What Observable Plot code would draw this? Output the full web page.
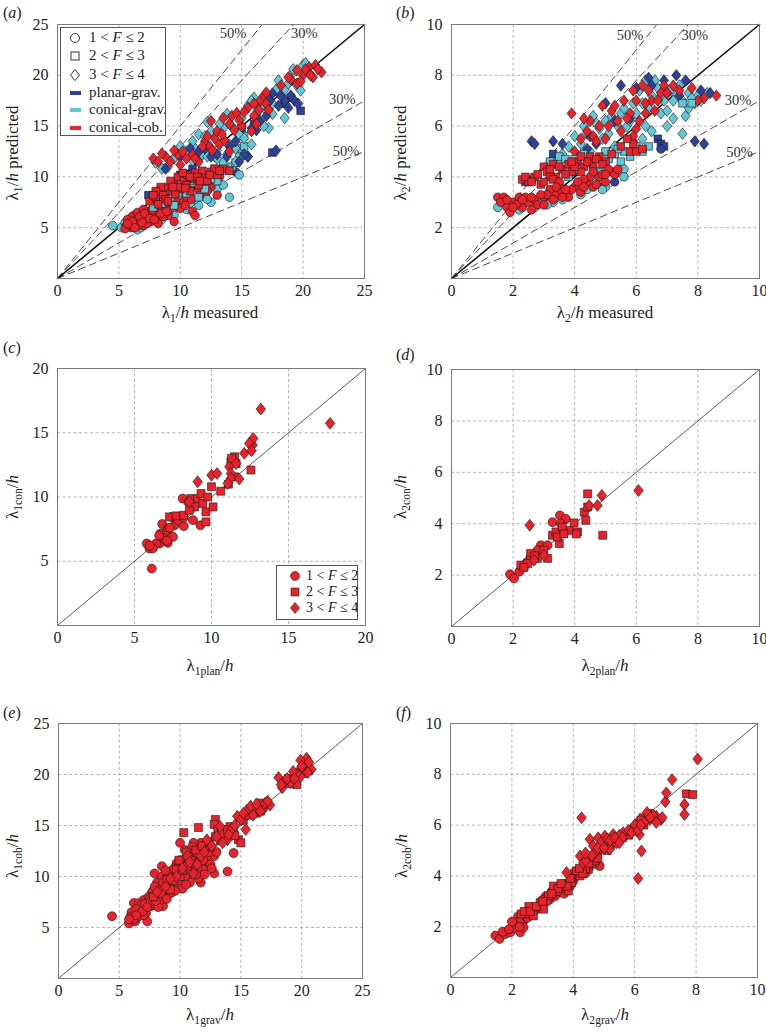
<!DOCTYPE html>
<html><head><meta charset="utf-8">
<script src="https://cdn.jsdelivr.net/npm/d3@7"></script>
<script src="https://cdn.jsdelivr.net/npm/@observablehq/plot@0.6"></script>
<style>
body{margin:0;background:#fff;}
#root{position:relative;width:766px;height:1034px;background:#fff;font-family:"Liberation Serif","Tinos","DejaVu Serif","Noto Serif",serif;color:#222;overflow:hidden}
.lab{position:absolute;white-space:nowrap;font-size:17px;line-height:1;transform:translate(-50%,-50%)}
.ylab{transform:translate(-50%,-50%) rotate(-90deg)}
.lab sub{font-size:0.68em;vertical-align:-0.35em;line-height:0}
.pl{position:absolute;font-size:16px;line-height:1}
.leg{position:absolute;border:1px solid #555;background:#fff;box-sizing:border-box}
.legrow{position:absolute;white-space:nowrap;line-height:1}
</style></head><body><div id="root"></div>
<script>
// ---------- DATA ----------
const ticks25 = [0,5,10,15,20,25];
const ticks20 = [0,5,10,15,20];
const ticks10 = [0,2,4,6,8,10];
const ratios = [1.5,1.3,0.7,0.5];
const fLabels = ["1 < F ≤ 2","2 < F ≤ 3","3 < F ≤ 4"];
const seriesNames = ["planar-grav.","conical-grav.","conical-cob."];
const seriesColors = ["#2f4299","#62c6d6","#e8232b"];

// (a) lambda1 measured vs predicted
const aPlanarCircle = [[12.0,9.4],[14.5,10.5],[10.5,8.5],[11.0,9.0]];
const aConGravCircle = [[4.5,5.2],[5.2,5.0],[6.0,5.5],[7.0,5.6],[7.5,6.2],[8.5,5.8],[9.0,7.0],[10.0,7.8],[10.5,6.8],[11.5,7.2],[12.0,8.2],[13.0,8.8],[14.0,8.0],[14.8,10.2],[12.5,7.5],[8.0,6.5],[9.5,6.2],[6.5,4.8],[7.8,7.4],[11.2,7.8],[5.5,5.5],[6.2,5.2],[6.8,5.0],[7.3,6.0],[8.2,6.8],[8.8,6.2],[9.8,7.4],[10.8,7.4],[12.2,7.8],[13.5,9.2],[11.0,8.4]];
const aConCobCircle = [[5.6,5.2],[5.8,5.6],[6.0,5.0],[6.2,6.2],[6.4,5.4],[6.5,6.5],[6.8,5.8],[7.0,5.2],[7.2,6.0],[7.4,6.6],[7.6,5.6],[7.8,6.4],[8.0,7.0],[8.2,6.0],[8.5,6.8],[8.8,7.2],[9.0,6.2],[9.5,5.6],[9.8,7.0],[10.2,7.5],[10.5,8.0],[11.0,6.6],[11.2,6.2],[12.5,9.0],[13.0,8.2],[13.2,10.0],[10.8,9.0],[11.5,8.8],[12.8,9.8],[9.2,8.0],[8.2,5.4],[5.5,4.9],[6.0,6.0],[6.6,5.2],[7.0,6.8],[6.3,5.7],[5.9,5.3],[7.3,5.4],[8.6,6.1],[9.4,7.3],[10.0,6.9],[5.7,5.8],[6.1,5.6],[6.7,6.1],[6.9,5.5],[7.1,6.4],[7.5,5.9],[7.7,6.8],[8.4,6.4],[8.7,7.6],[9.1,6.7],[9.6,7.6],[10.4,7.2],[10.9,7.8],[11.6,8.2],[12.2,8.6],[6.3,5.0],[5.7,5.4],[7.9,5.8],[8.9,6.6],[10.6,9.4]];
const aPlanarSquare = [[7.4,8.2],[7.8,7.8],[8.2,8.1],[9.0,8.8],[10.0,10.2],[11.0,10.8],[12.0,9.0],[15.0,14.8],[16.0,15.2],[17.5,12.4],[19.8,16.5],[19.0,17.8],[18.5,17.2]];
const aConGravSquare = [[7.8,7.0],[8.5,7.4],[9.2,8.0],[10.0,9.2],[10.5,8.4],[11.0,9.4],[12.0,8.8],[13.0,9.6],[14.2,11.0],[15.0,12.8],[15.2,13.0],[8.2,8.4],[9.5,7.2],[11.5,8.0],[12.8,10.8],[13.5,11.5],[14.8,12.0],[8.8,8.6],[9.8,8.4],[10.8,9.6],[11.8,9.8],[12.5,9.8],[13.8,10.6],[14.5,11.4],[15.2,14.0],[8.6,8.0]];
const aConCobSquare = [[7.5,7.6],[8.0,8.0],[8.3,8.6],[8.6,8.2],[9.0,9.0],[9.3,8.6],[9.5,9.4],[9.8,10.0],[10.0,8.8],[10.3,9.6],[10.6,10.2],[11.0,9.8],[11.2,10.4],[11.5,9.2],[12.0,10.0],[12.5,10.5],[13.0,10.2],[13.5,10.8],[14.0,10.6],[8.8,7.8],[10.8,8.6],[12.2,9.6],[9.0,7.6],[11.8,10.6],[8.2,7.3],[9.6,8.3],[10.5,9.2],[12.8,10.8],[8.4,9.0],[9.2,9.6],[9.8,9.0],[10.2,10.4],[10.8,10.0],[11.4,10.0],[11.6,9.6],[12.4,10.2],[13.2,10.6],[8.0,8.6],[9.4,9.0],[10.4,8.9],[7.8,8.2]];
const aPlanarDiamond = [[8.8,10.8],[10.0,12.0],[10.8,12.8],[12.0,12.8],[13.0,12.2],[14.5,13.5],[14.8,11.5],[15.5,12.0],[15.2,12.2],[16.5,15.5],[17.0,16.0],[17.8,12.6],[18.5,17.5],[18.8,16.8],[19.3,17.5],[18.2,18.0],[17.5,18.2],[13.8,12.0],[11.5,12.5],[12.5,12.0],[14.0,13.0],[15.8,14.8],[16.2,14.6],[18.0,17.0],[19.0,18.0],[19.6,17.2],[17.3,17.5]];
const aConGravDiamond = [[8.0,11.4],[8.5,10.8],[9.5,11.8],[10.5,12.5],[11.2,12.8],[11.8,12.2],[12.2,12.0],[13.0,12.6],[13.8,12.2],[14.5,12.8],[14.0,13.2],[12.5,14.5],[12.2,15.4],[11.5,14.2],[13.5,14.8],[15.0,15.8],[15.5,17.0],[16.0,17.8],[16.8,16.8],[17.5,17.2],[18.0,18.2],[18.5,18.6],[18.0,19.5],[19.0,20.0],[19.5,19.0],[20.0,21.0],[20.5,20.2],[17.5,16.2],[18.5,15.8],[17.2,14.8],[14.5,11.5],[15.8,17.5],[13.8,16.2],[19.8,18.5],[15.5,12.0],[9.0,11.0],[10.0,13.0],[11.0,13.5],[12.0,14.0],[13.2,15.2],[14.2,15.0],[14.8,14.2],[15.2,13.8],[16.2,16.2],[16.5,16.8],[17.0,17.6],[17.8,18.6],[18.8,19.2],[19.2,20.6],[20.2,21.2],[16.8,15.0],[15.8,13.2],[12.8,12.0],[11.0,11.6],[13.0,11.8]];
const aConCobDiamond = [[7.8,11.8],[8.2,11.5],[8.8,12.0],[9.2,11.5],[9.8,12.2],[10.0,11.2],[10.5,11.8],[11.0,12.2],[11.5,11.5],[12.0,13.5],[12.4,13.0],[12.8,13.8],[13.2,13.2],[13.6,13.6],[14.0,12.5],[13.0,14.5],[12.5,15.5],[13.5,15.8],[14.2,16.0],[14.6,16.3],[14.0,15.2],[15.5,16.8],[16.0,16.0],[16.5,17.5],[16.8,18.0],[17.0,17.2],[16.2,15.2],[15.8,14.5],[17.2,16.6],[19.0,19.6],[19.5,20.5],[20.0,20.0],[20.5,20.8],[21.0,21.0],[21.5,20.3],[19.5,19.2],[20.8,19.8],[20.2,20.6],[18.2,19.0],[8.5,12.3],[9.5,12.6],[10.2,12.5],[11.2,11.8],[11.8,13.0],[12.6,12.6],[13.4,14.2],[14.4,14.6],[15.0,15.0],[15.2,16.4],[16.4,16.6],[17.0,18.3],[16.0,17.2],[18.8,19.8],[19.8,19.4],[20.6,20.0],[21.2,20.6],[12.2,14.0],[14.8,15.6]];
const aPctText = ["50%","30%","30%","50%"];
const aPctX = [14.3,20.1,23.2,23.5];
const aPctY = [24.1,24.1,17.6,12.5];

// (b) lambda2 measured vs predicted
const bPlanarCircle = [[5.3,3.8],[6.8,5.1],[4.9,3.6]];
const bConGravCircle = [[1.5,2.8],[1.9,2.9],[2.4,3.0],[2.9,3.1],[3.3,3.0],[3.8,3.4],[4.4,3.5],[5.0,3.6],[5.4,4.2],[5.6,4.3],[4.7,3.9],[2.2,2.7],[2.7,2.8],[3.6,3.1],[4.2,3.3],[4.9,3.5],[5.6,4.0],[3.1,2.9]];
const bConCobCircle = [[1.5,3.2],[1.7,3.2],[1.8,2.8],[1.9,2.6],[2.0,3.0],[2.2,3.2],[2.3,2.8],[2.5,3.0],[2.7,3.1],[2.8,2.9],[3.0,3.2],[3.2,3.5],[3.4,3.3],[3.6,3.4],[3.8,3.2],[4.0,3.6],[4.2,3.4],[4.4,3.8],[4.6,3.6],[4.8,4.0],[5.0,3.8],[5.2,4.2],[5.3,4.1],[4.5,4.0],[3.9,3.5],[2.6,2.7],[2.1,2.9],[3.5,3.8],[5.1,4.3],[4.3,3.9],[1.6,3.0],[2.0,2.8],[2.4,3.2],[2.6,3.2],[3.0,2.9],[3.1,3.3],[3.3,3.1],[3.7,3.5],[4.1,3.8],[4.3,3.6],[4.7,3.7],[4.9,4.1],[5.4,4.3],[3.6,3.2],[2.9,3.3],[2.3,3.1],[1.8,3.1],[4.6,4.2],[5.0,4.1],[3.4,3.6]];
const bPlanarSquare = [[2.4,3.8],[2.6,3.9],[3.3,4.9],[4.3,4.9],[6.7,5.5],[6.8,5.3],[6.9,5.2],[4.0,4.2]];
const bConGravSquare = [[3.5,4.8],[4.0,4.7],[4.3,4.9],[5.0,5.0],[4.8,4.2],[5.3,4.9],[5.5,4.6],[6.0,5.2],[6.4,5.2],[7.5,6.9],[7.8,6.9],[4.6,4.3],[3.8,4.0],[5.8,4.8],[3.2,4.6],[3.7,4.7],[4.5,4.6],[5.1,4.7],[5.6,5.0],[6.2,5.0],[4.1,4.3],[5.4,5.1]];
const bConCobSquare = [[2.3,3.9],[2.5,3.8],[2.7,4.0],[3.0,4.4],[3.1,4.2],[3.3,4.5],[3.4,4.0],[3.6,4.3],[3.8,4.5],[3.9,4.2],[4.1,4.6],[4.3,4.4],[4.5,4.8],[4.6,4.5],[4.8,4.8],[5.0,4.6],[3.2,4.0],[2.9,3.7],[5.8,5.0],[6.0,5.0],[6.2,5.1],[5.9,5.3],[5.7,5.5],[5.5,5.2],[4.2,4.2],[3.5,3.6],[2.4,4.0],[2.8,4.1],[3.0,3.8],[3.2,4.3],[3.5,4.4],[3.7,4.1],[4.0,4.4],[4.4,4.6],[4.7,4.7],[4.9,4.5],[5.2,4.9],[3.3,3.9],[2.6,3.8],[3.9,4.6],[4.2,4.8]];
const bPlanarDiamond = [[2.6,5.4],[2.7,5.3],[3.3,5.4],[3.6,5.3],[4.4,5.1],[5.0,6.9],[5.5,7.6],[6.4,7.9],[7.3,8.0],[7.6,7.8],[7.9,5.4],[8.2,5.3],[8.1,7.4],[8.4,7.3],[5.8,6.3],[6.9,7.8],[4.7,5.3],[6.0,7.5],[6.5,7.6],[7.0,7.3],[7.4,7.2],[5.3,6.2],[4.5,5.6]];
const bConGravDiamond = [[3.4,4.6],[3.8,5.2],[4.0,5.6],[4.3,6.0],[4.6,6.4],[4.8,5.9],[5.0,6.2],[5.2,6.4],[5.5,6.5],[5.7,6.0],[5.9,6.9],[6.1,7.4],[6.3,7.8],[6.5,7.2],[6.7,7.5],[6.9,7.0],[7.1,7.4],[7.3,7.2],[7.5,7.0],[7.7,7.3],[8.0,7.2],[8.3,7.3],[7.6,6.4],[7.5,5.7],[7.0,6.0],[6.5,5.8],[6.8,6.5],[6.2,5.5],[5.3,5.2],[4.5,5.0],[7.9,6.9],[6.0,6.5],[3.6,4.9],[4.2,5.3],[4.4,5.7],[4.7,6.1],[5.1,5.7],[5.4,6.0],[5.6,6.7],[5.8,6.2],[6.2,6.9],[6.4,6.7],[6.6,7.8],[6.8,7.2],[7.2,7.0],[7.4,7.6],[7.8,7.1],[8.1,7.0],[7.0,6.6],[6.3,6.0],[5.9,5.4],[4.9,5.5],[7.7,6.7],[7.2,6.3]];
const bConCobDiamond = [[3.9,6.5],[4.2,5.5],[4.5,6.2],[4.4,5.8],[4.9,6.8],[5.0,5.5],[5.1,6.0],[5.2,6.6],[5.4,6.2],[5.6,7.0],[5.8,6.5],[6.0,5.9],[6.2,7.6],[6.4,7.4],[6.5,7.0],[6.6,6.6],[6.9,7.6],[7.2,7.6],[7.8,7.5],[8.2,7.1],[8.6,7.2],[6.1,6.2],[5.5,5.8],[4.6,5.6],[4.0,5.0],[6.8,7.3],[5.9,7.4],[6.3,6.9],[4.3,6.3],[4.8,6.0],[5.3,6.8],[5.7,6.3],[6.0,7.0],[6.3,6.5],[6.7,7.0],[7.0,7.3],[7.4,7.4],[8.0,7.0],[5.9,5.6],[4.7,5.4]];
const bPctText = ["50%","30%","30%","50%"];
const bPctX = [5.8,7.9,9.3,9.35];
const bPctY = [9.57,9.57,7.0,4.97];

// (c) lambda1 planar vs conical
const cCircle = [[6.12,4.43],[5.8,6.38],[5.97,5.99],[6.64,6.38],[7.16,6.43],[6.68,7.16],[6.8,7.9],[7.16,7.55],[7.6,7.8],[8.2,7.73],[8.8,8.2],[9.28,7.8],[8.13,9.88],[8.5,9.6],[7.16,7.4],[6.4,6.38],[7.4,8.45],[6.94,6.77],[6.2,6.0],[7.0,7.0],[7.3,7.6],[7.8,8.2],[6.9,6.8],[7.5,6.9],[8.2,8.4],[6.0,6.2],[6.6,7.0],[7.1,6.6]];
const cSquare = [[7.27,8.45],[7.7,8.53],[8.2,8.58],[8.67,9.88],[9.1,9.88],[9.43,9.5],[9.64,8.84],[9.64,8.06],[9.32,10.27],[10.0,10.8],[10.1,9.23],[10.6,10.45],[11.5,11.57],[11.26,12.74],[11.5,13.13],[12.56,12.1],[11.6,12.6],[8.9,9.23],[8.56,8.97],[9.75,10.0],[11.3,13.0],[11.1,11.0]];
const cDiamond = [[8.56,9.62],[9.1,11.18],[10.0,11.7],[10.36,11.83],[11.16,12.35],[11.26,11.83],[11.26,11.44],[11.8,11.4],[12.13,13.4],[12.67,14.04],[12.71,14.56],[12.45,14.17],[13.2,16.84],[17.7,15.73],[11.05,11.05],[11.6,12.6],[12.6,13.6]];

// (d) lambda2 planar vs conical
const dCircle = [[1.9,2.03],[2.03,1.87],[2.2,2.13],[2.36,2.32],[2.9,3.16],[3.12,3.16],[3.28,4.06],[3.52,4.32],[3.71,4.19],[3.55,4.0],[2.57,2.71],[2.79,2.97],[2.45,2.5],[2.65,2.6]];
const dSquare = [[2.57,2.84],[2.57,2.58],[2.79,2.65],[3.12,2.65],[3.28,3.55],[3.39,3.68],[3.5,3.23],[3.82,3.74],[3.98,4.03],[4.09,3.68],[4.31,4.45],[4.36,4.13],[4.42,5.16],[4.42,4.65],[4.91,3.55],[3.6,3.87],[2.25,2.39],[2.47,2.45],[3.0,2.97],[3.44,3.48],[2.35,2.3],[2.7,2.75],[3.65,3.6],[4.05,3.6]];
const dDiamond = [[2.54,3.94],[4.47,4.71],[4.74,4.71],[4.88,5.1],[6.07,5.29],[2.68,2.58],[3.0,2.77]];

// (e) lambda1 gravel vs cobble
const eCircle = [[4.4,6.1],[5.8,5.4],[6.3,5.6],[7.3,5.6],[6.2,7.4],[7.0,7.7],[7.7,8.5],[7.9,10.3],[8.5,11.0],[8.6,7.1],[8.9,8.7],[9.5,9.4],[10.0,13.3],[10.6,12.3],[11.1,10.7],[11.7,9.4],[12.8,10.3],[13.9,10.5],[14.4,12.3],[10.6,9.7],[11.7,13.3],[9.7,11.3],[8.1,9.4],[6.7,6.7],[6.0,6.2],[7.6,7.1],[9.2,8.4],[10.3,11.0],[12.2,11.3],[11.1,13.3],[9.1,10.0],[7.4,8.0],[6.6,7.4],[10.8,9.4],[12.8,12.0],[9.7,10.0],[8.6,10.0],[11.9,10.7],[6.0,6.5],[6.5,6.0],[6.8,7.2],[7.2,6.4],[7.5,7.8],[7.8,7.2],[8.0,8.2],[8.3,7.6],[8.7,8.8],[9.0,9.4],[9.3,8.4],[9.6,9.8],[9.9,10.6],[10.2,9.6],[10.5,11.2],[10.8,10.4],[11.2,11.8],[11.5,9.8],[11.8,12.4],[12.2,12.0],[12.5,11.2],[9.2,10.5],[8.5,10.0],[10.4,12.6],[11.0,12.9],[6.2,5.8],[5.9,6.0],[7.0,6.2],[8.2,7.0],[8.9,7.8],[6.4,6.8],[6.9,6.6],[7.1,7.3],[7.6,7.6],[8.0,7.6],[8.4,8.4],[8.8,9.2],[9.4,9.0],[9.8,9.4],[10.1,10.2],[10.4,10.0],[10.7,11.4],[11.1,11.2],[11.4,10.8],[11.6,12.2],[11.9,11.6],[12.4,12.4],[9.0,10.0],[9.5,10.8],[10.0,11.6],[10.9,12.2],[8.2,8.8],[7.3,7.0],[6.4,6.2],[5.8,5.8],[12.0,10.2],[10.2,8.8],[9.6,8.6],[8.6,9.4],[7.9,9.0],[8.8,10.6],[10.5,9.2],[11.3,10.2],[12.6,10.8],[13.0,12.4]];
const eSquare = [[10.3,14.3],[11.5,14.8],[12.9,15.6],[12.8,15.1],[14.1,14.9],[14.8,13.6],[15.0,13.3],[13.1,14.6],[12.2,13.3],[11.7,12.5],[11.1,12.0],[9.2,8.7],[10.0,10.0],[10.6,11.0],[8.9,9.7],[9.7,10.7],[13.6,13.9],[14.4,14.3],[16.2,16.2],[16.5,17.2],[16.0,16.5],[18.9,19.6],[19.3,19.5],[20.0,20.5],[20.4,20.8],[12.5,12.9],[7.8,8.0],[11.4,12.2],[12.0,12.8],[13.3,13.5],[15.2,15.5],[16.8,16.8],[19.6,19.0],[9.5,9.6],[10.2,10.6],[10.9,11.6],[11.3,12.6],[11.8,13.0],[12.4,13.4],[12.9,13.9],[13.4,14.2],[13.9,14.6],[14.5,14.0],[15.5,16.0],[16.3,16.8],[16.6,16.4],[19.0,19.1],[19.5,20.1],[20.2,20.1],[10.5,12.4],[9.9,11.6]];
const eDiamond = [[8.1,8.5],[9.7,10.0],[11.1,10.3],[12.2,13.6],[13.9,13.6],[14.7,15.9],[15.5,16.5],[15.4,14.6],[16.0,16.0],[16.9,16.7],[17.4,17.0],[18.1,19.7],[18.4,18.7],[19.1,19.2],[19.9,19.8],[20.2,21.0],[20.4,21.6],[20.8,20.5],[19.6,20.1],[19.9,21.4],[15.8,16.9],[13.0,13.9],[10.6,12.0],[11.7,12.0],[13.3,14.9],[16.3,17.1],[17.0,17.2],[18.6,19.3],[19.3,20.3],[20.6,21.2],[14.2,14.6],[10.2,10.8],[10.8,11.4],[11.4,11.2],[12.0,12.4],[12.6,13.0],[13.5,13.3],[14.0,14.1],[14.5,15.0],[15.0,15.6],[15.2,16.2],[16.6,16.4],[17.2,17.4],[18.3,19.0],[18.8,19.6],[19.4,19.6],[20.0,20.8],[20.5,20.2],[9.2,9.8],[8.8,9.0]];

// (f) lambda2 gravel vs cobble
const fCircle = [[1.46,1.65],[1.6,1.52],[1.78,1.71],[1.95,1.78],[2.1,2.04],[2.2,2.1],[2.27,1.78],[2.38,2.23],[2.6,2.43],[2.8,2.69],[3.03,2.95],[3.24,3.08],[3.57,3.35],[3.73,3.48],[3.9,3.6],[4.1,4.0],[4.32,4.26],[4.54,4.52],[4.76,4.78],[4.86,4.39],[3.46,3.41],[2.38,1.97],[2.16,2.17],[2.5,2.6],[2.9,2.8],[3.1,3.2],[3.4,3.2],[3.7,3.3],[4.0,3.8],[4.4,4.1],[2.2,2.4],[2.05,1.95],[2.7,2.55],[3.3,3.4],[1.7,1.8],[1.9,1.9],[2.0,2.2],[2.3,2.3],[2.45,2.4],[2.6,2.6],[2.75,2.75],[2.95,2.9],[3.15,3.0],[3.35,3.3],[3.6,3.5],[3.8,3.7],[4.0,4.1],[4.2,4.1],[4.5,4.3],[4.7,4.5],[2.25,2.0],[2.5,2.35],[3.0,3.05],[3.5,3.4]];
const fSquare = [[2.49,2.5],[2.7,2.69],[2.92,2.95],[3.19,3.22],[3.35,3.6],[3.68,3.67],[3.84,3.41],[3.95,3.74],[4.22,4.0],[4.49,4.26],[4.6,4.46],[4.76,4.85],[4.97,5.05],[5.4,5.3],[5.62,5.57],[5.95,5.83],[6.16,6.09],[6.49,6.46],[6.27,6.29],[7.68,7.23],[7.89,7.2],[6.05,5.83],[2.7,2.43],[3.03,2.69],[2.3,2.5],[2.55,2.8],[3.5,3.5],[4.1,4.2],[4.4,4.3],[5.2,5.2],[5.8,5.6],[6.3,6.0],[5.0,5.3],[4.7,4.6],[3.8,3.6],[4.3,4.1],[2.4,2.6],[2.6,2.6],[2.8,2.8],[3.0,3.0],[3.3,3.3],[3.6,3.7],[3.9,3.9],[4.2,4.3],[4.5,4.5],[4.8,4.7],[5.1,5.0],[5.3,5.4],[5.6,5.5],[6.0,5.9],[6.2,6.2],[6.5,6.4]];
const fDiamond = [[4.27,6.29],[3.78,4.13],[4.22,4.78],[4.54,5.44],[4.81,5.5],[5.03,5.57],[5.3,5.63],[5.4,5.3],[4.97,5.12],[4.65,5.18],[5.62,5.7],[6.16,5.63],[6.22,4.98],[6.11,3.9],[6.7,6.35],[6.86,6.22],[7.0,6.92],[7.03,7.27],[7.22,7.79],[7.62,6.81],[7.62,6.42],[8.05,8.6],[6.49,6.22],[6.05,5.96],[4.32,4.52],[5.19,5.05],[4.9,5.3],[5.1,5.45],[5.5,5.6],[6.3,6.1],[6.6,6.4],[4.7,4.9],[5.8,5.8],[6.0,6.0],[6.4,6.5],[4.4,4.6],[4.6,4.8],[4.8,5.1],[5.0,5.1],[5.2,5.4],[5.35,5.5],[5.6,5.5],[5.9,5.7],[6.1,5.8],[6.2,6.0],[6.5,6.3],[6.7,6.1],[6.9,6.3],[4.4,4.9],[5.5,5.3]];

// ---------- RENDER ----------
const FONT="'Liberation Serif','Tinos','DejaVu Serif','Noto Serif',serif";
const root = document.getElementById("root");
const diamondSym = {draw(ctx, size){const h=Math.sqrt(size)*0.75, w=h*0.8; ctx.moveTo(0,-h); ctx.lineTo(w,0); ctx.lineTo(0,h); ctx.lineTo(-w,0); ctx.closePath();}};
const shapeSyms = ["circle","square",diamondSym];

function panel(o){
  const mL=50,mR=12,mT=10,mB=30;
  const max=o.ticks[o.ticks.length-1];
  const inner=o.ticks.filter(t=>t>0&&t<max);
  const marks=[
    Plot.gridX(inner,{stroke:"#a0a0a0",strokeOpacity:1,strokeWidth:0.8,strokeDasharray:"3,2.5"}),
    Plot.gridY(inner,{stroke:"#a0a0a0",strokeOpacity:1,strokeWidth:0.8,strokeDasharray:"3,2.5"}),
    Plot.axisX(o.ticks,{tickSize:0,tickPadding:6,label:null,fontSize:16,tickFormat:d=>String(d)}),
    Plot.axisY(o.ticks.filter(t=>t>0),{tickSize:0,tickPadding:9,label:null,fontSize:16,tickFormat:d=>String(d)})
  ];
  if(o.ratios){
    for(const r of o.ratios){
      marks.push(Plot.line([[0,0],[max,max*r]],{stroke:"#333",strokeWidth:0.9,strokeDasharray:"7,4.5",clip:true}));
    }
  }
  marks.push(Plot.line([[0,0],[max,max]],{stroke:o.ratios?"#111":"#333",strokeWidth:o.ratios?1.6:0.8}));
  for(const g of o.groups){
    marks.push(Plot.dot(g.data,{x:d=>d[0],y:d=>d[1],symbol:shapeSyms[g.shape],r:o.r,fill:g.color,stroke:"#1a1a1a",strokeWidth:0.6}));
  }
  if(o.pct){
    marks.push(Plot.text(o.pct.text,{x:o.pct.x,y:o.pct.y,text:d=>d,fontSize:14.5,fill:"#333"}));
  }
  marks.push(Plot.frame({stroke:"#7a7a7a",strokeWidth:1}));
  const svg=Plot.plot({
    width:o.fw+mL+mR,height:o.fh+mT+mB,
    marginLeft:mL,marginRight:mR,marginTop:mT,marginBottom:mB,
    x:{domain:[0,max]},y:{domain:[0,max]},
    style:{fontFamily:FONT,fontSize:"16px",color:"#222",background:"transparent",overflow:"visible"},
    marks
  });
  svg.style.position="absolute";
  svg.style.left=(o.left-mL)+"px";
  svg.style.top=(o.top-mT)+"px";
  root.appendChild(svg);
}

const [cB,cC,cR]=seriesColors;
panel({left:57,top:24,fw:307,fh:254,ticks:ticks25,ratios,r:4.3,
  pct:{text:aPctText,x:aPctX,y:aPctY},
  groups:[
    {data:aPlanarCircle,shape:0,color:cB},{data:aConGravCircle,shape:0,color:cC},{data:aConCobCircle,shape:0,color:cR},
    {data:aPlanarSquare,shape:1,color:cB},{data:aConGravSquare,shape:1,color:cC},{data:aConCobSquare,shape:1,color:cR},
    {data:aConGravDiamond,shape:2,color:cC},{data:aPlanarDiamond,shape:2,color:cB},{data:aConCobDiamond,shape:2,color:cR}
  ]});
panel({left:451,top:24,fw:308,fh:254,ticks:ticks10,ratios,r:4.3,
  pct:{text:bPctText,x:bPctX,y:bPctY},
  groups:[
    {data:bConGravDiamond,shape:2,color:cC},{data:bPlanarDiamond,shape:2,color:cB},{data:bConCobDiamond,shape:2,color:cR},
    {data:bPlanarSquare,shape:1,color:cB},{data:bConGravSquare,shape:1,color:cC},{data:bConCobSquare,shape:1,color:cR},
    {data:bPlanarCircle,shape:0,color:cB},{data:bConGravCircle,shape:0,color:cC},{data:bConCobCircle,shape:0,color:cR}
  ]});
panel({left:57,top:368,fw:308,fh:257,ticks:ticks20,r:4.5,
  groups:[{data:cCircle,shape:0,color:cR},{data:cSquare,shape:1,color:cR},{data:cDiamond,shape:2,color:cR}]});
panel({left:451,top:369,fw:308,fh:257,ticks:ticks10,r:4.5,
  groups:[{data:dCircle,shape:0,color:cR},{data:dSquare,shape:1,color:cR},{data:dDiamond,shape:2,color:cR}]});
panel({left:58,top:723,fw:304,fh:255,ticks:ticks25,r:4.5,
  groups:[{data:eCircle,shape:0,color:cR},{data:eSquare,shape:1,color:cR},{data:eDiamond,shape:2,color:cR}]});
panel({left:450,top:723,fw:307,fh:254,ticks:ticks10,r:4.5,
  groups:[{data:fCircle,shape:0,color:cR},{data:fSquare,shape:1,color:cR},{data:fDiamond,shape:2,color:cR}]});

// ---------- TEXT ----------
function div(cls,html,css){const d=document.createElement("div");d.className=cls;d.innerHTML=html;Object.assign(d.style,css);root.appendChild(d);return d;}
const lam=s=>`λ<sub>${s}</sub>/<i>h</i>`;
const xl=[[210,312,lam("1")+" measured"],[605,312,lam("2")+" measured"],[210,665,lam("1plan")],[605,665,lam("2plan")],[210,1014,lam("1grav")],[605,1014,lam("2grav")]];
const yl=[[12,153,lam("1")+" predicted"],[400,153,lam("2")+" predicted"],[12,497,lam("1con")],[400,497,lam("2con")],[12,856,lam("1cob")],[401,856,lam("2cob")]];
for(const [x,y,h] of xl) div("lab",h,{left:x+"px",top:y+"px"});
for(const [x,y,h] of yl) div("lab ylab",h,{left:x+"px",top:y+"px"});
const pls=[["a",3,5],["b",396,5],["c",3,340],["d",396,347],["e",3,705],["f",396,705]];
for(const [t,x,y] of pls) div("pl",`(<i>${t}</i>)`,{left:x+"px",top:y+"px"});

// legends
const fHTML=s=>s.replace("F","<i>F</i>");
function symSVG(shape,fill,w,h,cx,cy){
  let el;
  if(shape===0) el=`<circle cx="${cx}" cy="${cy}" r="4.5"/>`;
  else if(shape===1) el=`<rect x="${cx-4}" y="${cy-4}" width="8" height="8"/>`;
  else el=`<path d="M${cx},${cy-5.6}L${cx+4.5},${cy}L${cx},${cy+5.6}L${cx-4.5},${cy}Z"/>`;
  return `<svg width="${w}" height="${h}" style="position:absolute;left:0;top:0"><g fill="${fill}" stroke="#222" stroke-width="${fill==="none"?0.9:0.6}">${el}</g></svg>`;
}
const legA=div("leg","",{left:"60px",top:"27px",width:"106px",height:"109px"});
const rowYA=[10,28,47,65,82,100];
fLabels.forEach((s,i)=>{
  const r=document.createElement("div");r.className="legrow";
  Object.assign(r.style,{left:"0px",top:(rowYA[i]-9)+"px",width:"104px",height:"18px",fontSize:"15px"});
  r.innerHTML=symSVG(i,"none",30,18,14,9)+`<span style="position:absolute;left:28px;top:1px">${fHTML(s)}</span>`;
  legA.appendChild(r);
});
seriesNames.forEach((s,i)=>{
  const r=document.createElement("div");r.className="legrow";
  Object.assign(r.style,{left:"0px",top:(rowYA[i+3]-9)+"px",width:"104px",height:"18px",fontSize:"15px"});
  r.innerHTML=`<svg width="30" height="18" style="position:absolute;left:0;top:0"><rect x="9" y="7" width="11" height="4" fill="${seriesColors[i]}"/></svg><span style="position:absolute;left:28px;top:1px">${s}</span>`;
  legA.appendChild(r);
});
const legC=div("leg","",{left:"276px",top:"565px",width:"82px",height:"55px"});
const rowYC=[10,26,42];
fLabels.forEach((s,i)=>{
  const r=document.createElement("div");r.className="legrow";
  Object.assign(r.style,{left:"0px",top:(rowYC[i]-8)+"px",width:"80px",height:"16px",fontSize:"14px"});
  r.innerHTML=symSVG(i,seriesColors[2],30,16,18,8)+`<span style="position:absolute;left:29px;top:1px">${fHTML(s)}</span>`;
  legC.appendChild(r);
});
</script></body></html>
